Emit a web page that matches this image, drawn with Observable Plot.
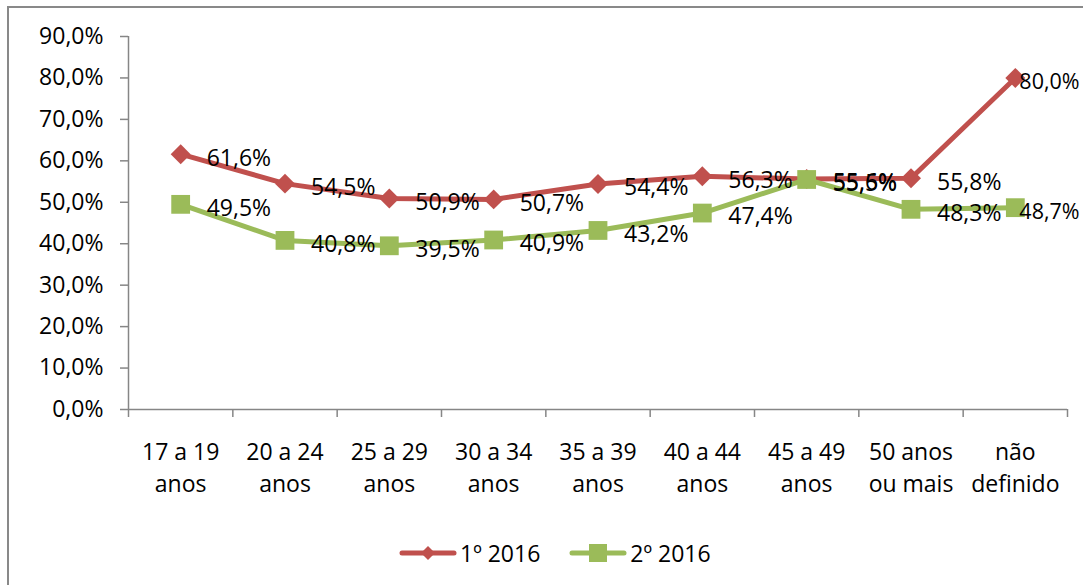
<!DOCTYPE html>
<html>
<head>
<meta charset="utf-8">
<script src="https://cdn.jsdelivr.net/npm/d3@7"></script>
<script src="https://cdn.jsdelivr.net/npm/@observablehq/plot@0.6"></script>
<style>
  body { margin: 0; background: #fff; width: 1083px; height: 585px; overflow: hidden; position: relative; font-family: "Open Sans", sans-serif; }
  #frame { position: absolute; left: 7px; top: 6px; width: 1200px; height: 700px; border: 2px solid #898989; }
  #chart { position: absolute; left: 0; top: 0; }
  #legend { position: absolute; left: 399px; top: 537px; display: flex; align-items: center; font-size: 23px; color: #000; }
  #legend .item { display: flex; align-items: center; margin-right: 29px; }
  #legend svg { margin-right: 3px; }
</style>
</head>
<body>
<div id="frame"></div>
<div id="chart"></div>
<div id="legend"></div>
<script>
// faixas etárias
const categorias = ["17 a 19\nanos", "20 a 24\nanos", "25 a 29\nanos", "30 a 34\nanos", "35 a 39\nanos",
  "40 a 44\nanos", "45 a 49\nanos", "50 anos\nou mais", "não\ndefinido"]
const semestre1 = [61.6, 54.5, 50.9, 50.7, 54.4, 56.3, 55.6, 55.8, 80.0]
const semestre2 = [49.5, 40.8, 39.5, 40.9, 43.2, 47.4, 55.5, 48.3, 48.7]
const yTicks = [0, 10, 20, 30, 40, 50, 60, 70, 80, 90]

const series = [
  { nome: "1º 2016", valores: semestre1, cor: "#C0504D", simbolo: "diamond2", r: 9 },
  { nome: "2º 2016", valores: semestre2, cor: "#9BBB59", simbolo: "square", r: 10.6 },
]

const pct = v => v.toFixed(1).replace(".", ",") + "%"
const ultimo = categorias.length - 1

let marcas = []
series.forEach(s => {
  let dados = s.valores.map((v, i) => ({ i: i + 0.5, v }))
  marcas.push(Plot.line(dados, { x: "i", y: "v", stroke: s.cor, strokeWidth: 5 }))
  marcas.push(Plot.dot(dados, { x: "i", y: "v", symbol: s.simbolo, fill: s.cor, r: s.r }))
})
series.forEach(s => {
  let dados = s.valores.map((v, i) => ({ i: i + 0.5, v }))
  // o último rótulo fica encostado no ponto, como no Excel
  marcas.push(Plot.text(dados.slice(0, ultimo), { x: "i", y: "v", text: d => pct(d.v), textAnchor: "start", dx: 26, dy: 4, fill: "#000", fontSize: 23 }))
  marcas.push(Plot.text(dados.slice(ultimo), { x: "i", y: "v", text: d => pct(d.v), textAnchor: "start", dx: 4, dy: 4, fill: "#000", fontSize: 21.5 }))
})

let grafico = Plot.plot({
  width: 1083,
  height: 510,
  marginLeft: 128,
  marginRight: 16,
  marginTop: 36,
  marginBottom: 101,
  x: { domain: [0, 9] },
  y: { domain: [0, 90] },
  style: { fontFamily: "Open Sans", fontSize: "23px", color: "#000", background: "transparent", overflow: "visible" },
  marks: [
    Plot.axisY({ ticks: yTicks, tickFormat: pct, tickSize: 8, tickPadding: 17, stroke: "#868686", strokeWidth: 1.5, label: null, fontSize: 23, fill: "#000" }),
    Plot.axisX({ ticks: d3.range(10), tickFormat: () => "", tickSize: 8, stroke: "#868686", strokeWidth: 1.5, label: null }),
    Plot.axisX({ ticks: categorias.map((c, i) => i + 0.5), tickFormat: d => categorias[d - 0.5], tickSize: 0, tickPadding: 27, lineHeight: 1.42, label: null, fontSize: 23, fill: "#000" }),
    Plot.ruleX([0], { stroke: "#868686", strokeWidth: 1.5 }),
    Plot.ruleY([0], { stroke: "#868686", strokeWidth: 1.5 }),
    ...marcas,
  ],
})

d3.select("#chart").append(() => grafico)

// legenda
let legenda = d3.select("#legend")
series.forEach(s => {
  let item = legenda.append("div").attr("class", "item")
  let svg = item.append("svg").attr("width", 58).attr("height", 24)
  svg.append("line").attr("x1", 3).attr("x2", 55).attr("y1", 12).attr("y2", 12)
    .attr("stroke", s.cor).attr("stroke-width", 5).attr("stroke-linecap", "round")
  if (s.simbolo == "square") {
    svg.append("rect").attr("x", 20).attr("y", 3).attr("width", 18).attr("height", 18).attr("fill", s.cor)
  } else {
    svg.append("path").attr("d", "M29,5L36,12L29,19L22,12Z").attr("fill", s.cor)
  }
  item.append("span").text(s.nome)
})
</script>
</body>
</html>
